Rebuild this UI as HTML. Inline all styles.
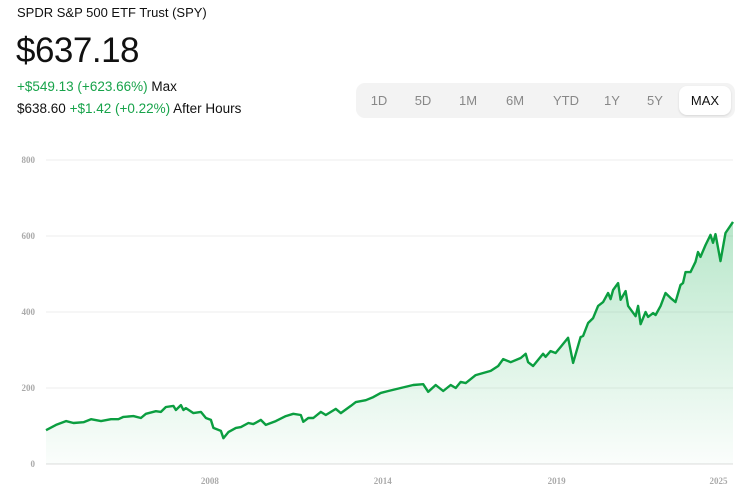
<!DOCTYPE html>
<html><head><meta charset="utf-8"><style>
body{margin:0;width:753px;height:502px;background:#fff;font-family:"Liberation Sans",sans-serif;position:relative;overflow:hidden;color:#111}
.t{position:absolute;white-space:nowrap}
.g{color:#17a34a}
#tabs{position:absolute;left:356px;top:83px;width:379px;height:35px;background:#f3f3f3;border-radius:9px}
.tab{position:absolute;top:0;height:35px;line-height:35px;font-size:13px;color:#888;text-align:center}
.tab.on{background:#fff;color:#111;border-radius:8px;top:3px;height:29px;line-height:29px;box-shadow:0 1px 2px rgba(0,0,0,.12)}
</style></head><body>
<div class="t" style="left:17px;top:5px;font-size:13px">SPDR S&amp;P 500 ETF Trust (SPY)</div>
<div class="t" style="left:16px;top:31px;font-size:35px;letter-spacing:-0.5px">$637.18</div>
<div class="t" style="left:17px;top:79px;font-size:13.5px"><span class="g">+$549.13 (+623.66%)</span> Max</div>
<div class="t" style="left:17px;top:101px;font-size:13.5px">$638.60 <span class="g">+$1.42 (+0.22%)</span> After Hours</div>
<div id="tabs">
<div class="tab" style="left:8px;width:30px">1D</div>
<div class="tab" style="left:52px;width:30px">5D</div>
<div class="tab" style="left:97px;width:30px">1M</div>
<div class="tab" style="left:144px;width:30px">6M</div>
<div class="tab" style="left:193px;width:34px">YTD</div>
<div class="tab" style="left:243px;width:26px">1Y</div>
<div class="tab" style="left:286px;width:26px">5Y</div>
<div class="tab on" style="left:323px;width:52px">MAX</div>
</div>
<svg id="chart" width="753" height="502" style="position:absolute;left:0;top:0"></svg>
<script>
const months=[0,4,8,11,15,18,22,26,29,31,35,38,40,44,46,48,51,52,54,55,56,59,62,64,66,67,70,71,73,76,78,81,83,86,88,92,96,99,102,103,105,107,110,112,116,118,122,124,128,131,134,137,142,147,151,153,156,159,162,164,166,168,172,178,181,183,186,190,192,193,195,197,199,200,202,204,206,209,211,214,215,217,219,221,223,225,226,227,229,230,232,233,236,237,238,240,241,243,244,246,248,250,252,254,255,256,258,260,261,262,264,266,267,268,270,272,275];
const prices=[89,103,113,108,110,118,113,118,118,124,126,121,132,139,137,150,153,142,155,142,147,134,137,121,116,95,87,68,84,95,97,108,105,116,103,113,126,132,129,111,121,121,137,129,145,134,153,163,168,176,187,192,200,208,210,190,208,192,208,200,216,213,234,245,258,276,268,279,290,268,258,274,290,282,297,292,308,332,266,334,337,371,384,416,426,450,434,458,476,432,455,416,389,416,368,400,387,397,392,416,450,437,426,471,476,505,505,532,558,545,576,603,582,605,534,608,637];
const yTicks=[0,200,400,600,800];
const xTickPos=[65.6,134.8,204.4,269.2];
const xTickLabels=['2008','2014','2019','2025'];
const NS='http://www.w3.org/2000/svg';
const svg=document.getElementById('chart');
const X0=46,X1=733,Y0=464,Y1=160,MMAX=275,VMAX=800;
const xs=m=>X0+(X1-X0)*m/MMAX, ys=v=>Y0-(Y0-Y1)*v/VMAX;
function mk(tag,attrs){const e=document.createElementNS(NS,tag);for(const k in attrs)e.setAttribute(k,attrs[k]);svg.appendChild(e);return e;}
const defs=mk('defs',{});
defs.innerHTML='<linearGradient id="gf" x1="0" y1="0" x2="0" y2="1"><stop offset="0" stop-color="#21b35a" stop-opacity="0.32"/><stop offset="1" stop-color="#21b35a" stop-opacity="0.02"/></linearGradient>';
yTicks.forEach(v=>{
  const l=mk('line',{x1:X0,x2:X1,y1:ys(v),y2:ys(v),stroke:v===0?'#dcdcdc':'#eeeeee','stroke-width':1});
  
  
  const t=mk('text',{x:35,y:ys(v)+3,'text-anchor':'end','font-size':9,fill:'#aaa','font-family':'Liberation Serif, serif','font-weight':'bold'});
  t.textContent=String(v);
  
  
});
xTickPos.forEach((m,i)=>{
  const t=mk('text',{x:xs(m),y:484,'text-anchor':'middle','font-size':9,fill:'#aaa','font-family':'Liberation Serif, serif','font-weight':'bold'});
  t.textContent=xTickLabels[i];
  
  
});
let d='';
months.forEach((m,i)=>{d+=(i?'L':'M')+xs(m).toFixed(1)+','+ys(prices[i]).toFixed(1);});
const area=mk('path',{d:d+'L'+xs(months[months.length-1])+','+Y0+'L'+xs(months[0])+','+Y0+'Z',fill:'url(#gf)'});


const line=mk('path',{d:d,fill:'none',stroke:'#0b9e40','stroke-width':2.4,'stroke-linejoin':'round'});


</script>
</body></html>
